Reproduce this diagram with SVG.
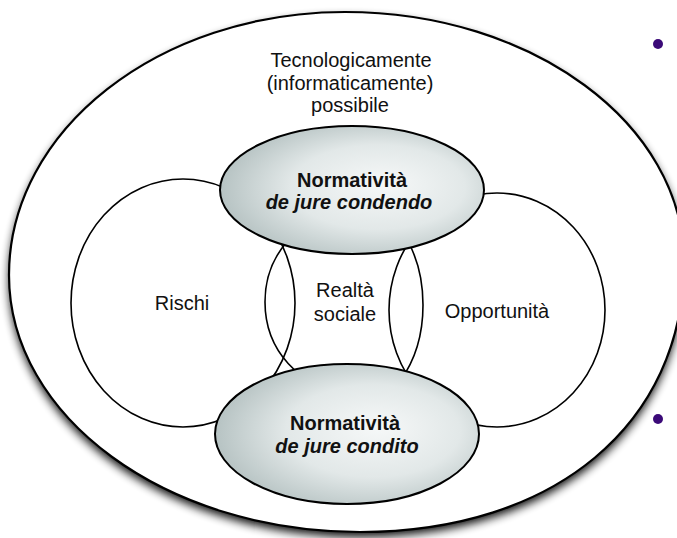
<svg xmlns="http://www.w3.org/2000/svg" width="677" height="538" viewBox="0 0 677 538">
  <style>
    text { font-family: "Liberation Sans", Arial, Helvetica, sans-serif; font-size: 20px; fill: #111; text-anchor: middle; }
    .bold { font-weight: bold; }
    .bi { font-weight: bold; font-style: italic; }
    .circle { fill: none; stroke: #000; stroke-width: 1.6; }
    .norm { fill: url(#normGrad); stroke: #000; stroke-width: 2; }
    .outer { fill: #fff; stroke: #000; stroke-width: 2.2; }
    .bullet { fill: #3b0a78; }
  </style>
  <defs>
    <radialGradient id="normGrad" cx="0.58" cy="0.5" r="0.6" fx="0.62" fy="0.45">
      <stop offset="0" stop-color="#f6f8f8"/>
      <stop offset="0.55" stop-color="#e2e8e8"/>
      <stop offset="1" stop-color="#b3c0c0"/>
    </radialGradient>
    <filter id="shadow" x="-10%" y="-10%" width="120%" height="125%">
      <feGaussianBlur stdDeviation="5"/>
    </filter>
  </defs>
  <rect x="0" y="0" width="677" height="538" fill="#fff"/>

  <g id="outer-possibile">
    <path d="M 9 275 C 9 130 159 12 345 12 C 532 12 684 124 684 262 C 684 424 554 532 360 532 C 166 532 9 417 9 275 Z" fill="#000" opacity="0.95" transform="translate(0,5)" filter="url(#shadow)"/>
    <path class="outer" d="M 9 275 C 9 130 159 12 345 12 C 532 12 684 124 684 262 C 684 424 554 532 360 532 C 166 532 9 417 9 275 Z"/>
    <text x="351" y="67">Tecnologicamente</text>
    <text x="350" y="90">(informaticamente)</text>
    <text x="350" y="112">possibile</text>
  </g>

  <g id="rischi">
    <ellipse class="circle" cx="183" cy="303" rx="112" ry="124"/>
    <text x="182" y="310">Rischi</text>
  </g>

  <g id="realta-sociale">
    <path class="circle" d="M 344 197 C 387.6 197 423 245.4 423 305 C 423 364.6 387.6 413 344 413 L 344 389 C 300.4 389 265 350 265 302 C 265 254 300.4 215 344 215 Z"/>
    <text x="345" y="297">Realtà</text>
    <text x="345" y="321">sociale</text>
  </g>

  <g id="opportunita">
    <ellipse class="circle" cx="497" cy="310" rx="108" ry="117"/>
    <text x="497" y="318">Opportunità</text>
  </g>

  <g id="normativita-condendo">
    <ellipse class="norm" cx="352" cy="190" rx="132" ry="64"/>
    <text class="bold" x="352" y="187">Normatività</text>
    <text class="bi" x="349" y="209">de jure condendo</text>
  </g>

  <g id="normativita-condito">
    <ellipse class="norm" cx="347" cy="434" rx="132" ry="70"/>
    <text class="bold" x="345" y="430">Normatività</text>
    <text class="bi" x="347" y="453">de jure condito</text>
  </g>

  <g id="connectors"></g>

  <g id="bullets">
    <circle class="bullet" cx="658" cy="44" r="5"/>
    <circle class="bullet" cx="658" cy="419" r="5"/>
  </g>
</svg>
